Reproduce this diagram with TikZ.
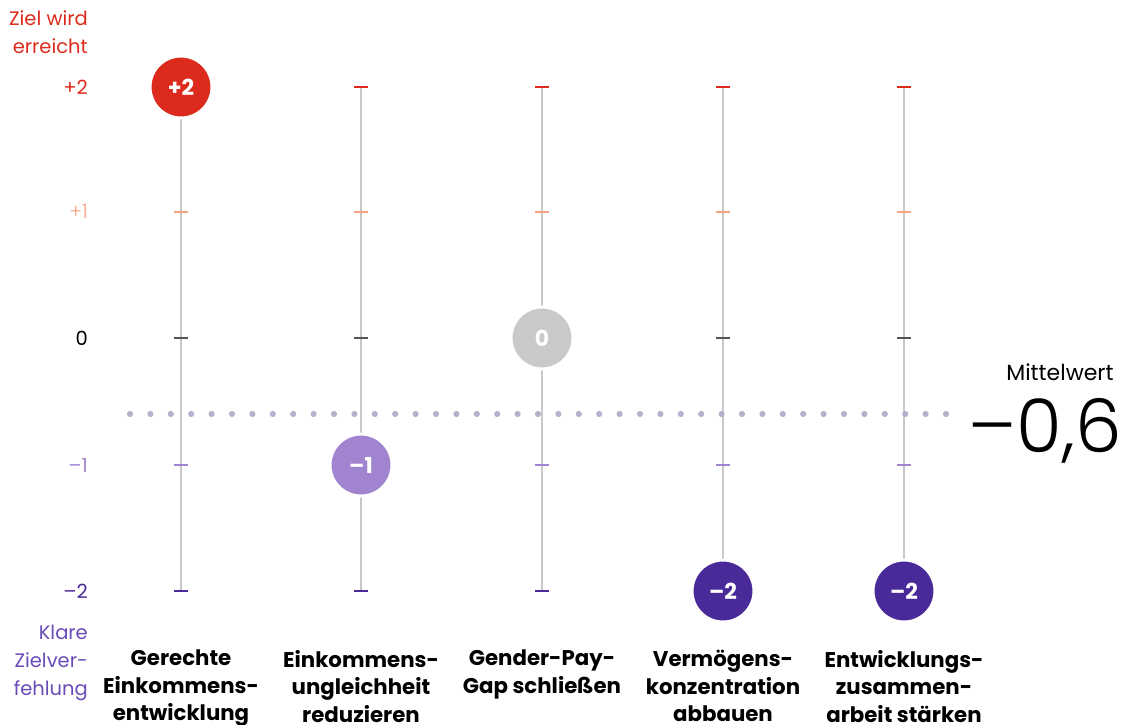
\documentclass[tikz,border=0pt]{standalone}
\usepackage{fontspec}
\setmainfont{Poppins}
\newfontfamily\lightfont{Poppins Light}
\definecolor{zielrot}{HTML}{DC2B1C}
\definecolor{zielorange}{HTML}{F5A382}
\definecolor{nullgrau}{HTML}{555555}
\definecolor{hellila}{HTML}{A084CF}
\definecolor{dunkellila}{HTML}{4A2A99}
\definecolor{kreisgrau}{HTML}{C8C9C8}
\definecolor{achsgrau}{HTML}{C8C8C8}
\definecolor{punktlila}{HTML}{B5B0CC}
\definecolor{textlila}{HTML}{6A4BB8}
\begin{document}
\begin{tikzpicture}[x=1pt,y=-1pt,
  achse/.style={draw=achsgrau, line width=1.5pt},
  strich/.style={line width=2.2pt},
  wert/.style={circle, minimum size=62pt, inner sep=0pt, draw=white, line width=3pt,
    text=white, font=\bfseries\fontsize{22}{22}\selectfont},
  stufe/.style={anchor=east, inner sep=0pt, font=\fontsize{19.5}{19.5}\selectfont},
  randtext/.style={anchor=north east, align=right, inner sep=0pt,
    font=\fontsize{19.5}{28}\selectfont},
  ziel/.style={anchor=north, align=center, inner sep=0pt,
    font=\bfseries\fontsize{21.3}{27.5}\selectfont}]
\useasboundingbox (0,0) rectangle (1125,724);
% achsen und striche
\foreach \x/\n in {181/1,361/2,542/3,723/4,904/5} {
  \coordinate (oben\n) at (\x,87);
  \coordinate (unten\n) at (\x,591);
  \draw[achse] (oben\n) -- (unten\n);
  \draw[strich, zielrot] (\x-7,87) -- (\x+7,87);
  \draw[strich, zielorange] (\x-7,212) -- (\x+7,212);
  \draw[strich, nullgrau] (\x-7,338) -- (\x+7,338);
  \draw[strich, hellila] (\x-7,465) -- (\x+7,465);
  \draw[strich, dunkellila] (\x-7,591) -- (\x+7,591);
}
% mittelwert
\foreach \i in {0,...,40}
  \fill[punktlila] (130+\i*20.4,414) circle (3.1pt);
% werte
\node[wert, fill=zielrot] (w1) at (oben1) {+2};
\node[wert, fill=hellila] (w2) at (361,465) {–1};
\node[wert, fill=kreisgrau] (w3) at (542,338) {0};
\node[wert, fill=dunkellila] (w4) at (unten4) {–2};
\node[wert, fill=dunkellila] (w5) at (unten5) {–2};
% skala links
\node[stufe, text=zielrot] (s2) at (88,87) {+2};
\node[stufe, text=zielorange] (s1) at (88,212) {\lightfont +1};
\node[stufe, text=black] (s0) at (88,338) {0};
\node[stufe, text=hellila] (sm1) at (88,465) {–1};
\node[stufe, text=dunkellila] (sm2) at (88,591) {–2};
\node[randtext, text=zielrot] (erreicht) at (88,10) {Ziel wird\\erreicht};
\node[randtext, text=textlila] (verfehlt) at (88,625) {Klare\\Zielver-\\fehlung};
% ziele
\node[ziel] (z1) at (181,650) {Gerechte\\Einkommens-\\entwicklung};
\node[ziel] (z2) at (361,650) {Einkommens-\\ungleichheit\\reduzieren};
\node[ziel] (z3) at (542,650) {Gender-Pay-\\Gap schließen};
\node[ziel] (z4) at (723,650) {Vermögens-\\konzentration\\abbauen};
\node[ziel] (z5) at (904,650) {Entwicklungs-\\zusammen-\\arbeit stärken};
\node[anchor=base, font=\fontsize{22}{22}\selectfont] (mw) at (1060,380) {Mittelwert};
\node[anchor=base east, inner sep=0pt, font=\lightfont\fontsize{74}{74}\selectfont] (mwert) at (1122,452) {–0,6};
\end{tikzpicture}
\end{document}
